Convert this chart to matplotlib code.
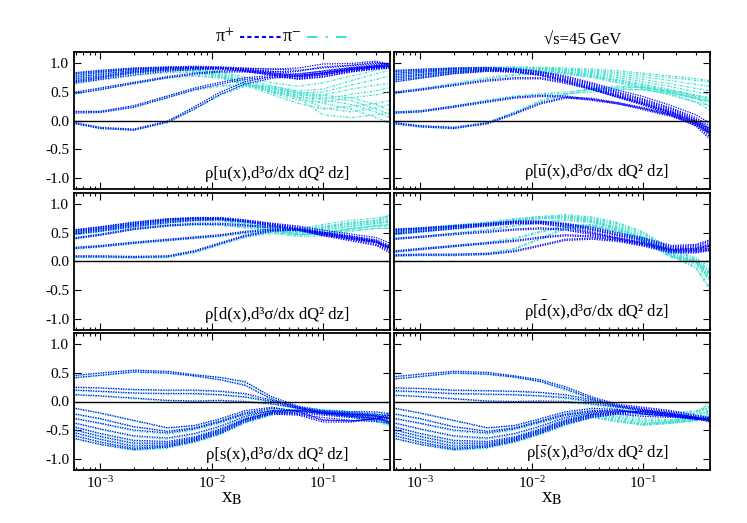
import numpy as np
import matplotlib
matplotlib.use("Agg")
import matplotlib.pyplot as plt
from matplotlib.lines import Line2D

plt.rcParams['font.family'] = ['Liberation Serif', 'DejaVu Serif']
plt.rcParams['mathtext.fontset'] = 'stix'
plt.rcParams['axes.unicode_minus'] = False

# x nodes shared by every curve
xb = [6e-4, 1e-3, 2e-3, 4e-3, 7e-3, 1.2e-2, 2e-2, 3.5e-2, 6e-2, 0.1, 0.18, 0.3, 0.4]

# rho[u(x), sigma]
u_pip = [
    [0.84, 0.88, 0.92, 0.94, 0.95, 0.94, 0.92, 0.90, 0.88, 0.92, 0.96, 1.00, 1.00],
    [0.82, 0.86, 0.91, 0.93, 0.94, 0.93, 0.90, 0.86, 0.82, 0.86, 0.92, 0.96, 0.98],
    [0.79, 0.84, 0.90, 0.92, 0.93, 0.92, 0.89, 0.84, 0.79, 0.83, 0.90, 0.94, 0.96],
    [0.76, 0.81, 0.88, 0.92, 0.93, 0.92, 0.88, 0.82, 0.76, 0.80, 0.88, 0.93, 0.95],
    [0.73, 0.78, 0.86, 0.90, 0.92, 0.91, 0.87, 0.80, 0.73, 0.77, 0.86, 0.92, 0.94],
    [0.70, 0.76, 0.85, 0.90, 0.92, 0.92, 0.91, 0.90, 0.92, 0.99, 1.00, 1.04, 0.98],
    [0.68, 0.74, 0.83, 0.88, 0.91, 0.91, 0.89, 0.86, 0.86, 0.94, 0.97, 1.02, 0.97],
    [0.66, 0.72, 0.80, 0.86, 0.89, 0.90, 0.86, 0.79, 0.72, 0.76, 0.85, 0.90, 0.92],
    [0.50, 0.57, 0.67, 0.77, 0.83, 0.87, 0.87, 0.83, 0.79, 0.83, 0.91, 0.95, 0.96],
    [0.47, 0.54, 0.65, 0.75, 0.81, 0.85, 0.85, 0.81, 0.77, 0.81, 0.89, 0.94, 0.95],
    [0.16, 0.16, 0.26, 0.43, 0.57, 0.67, 0.75, 0.79, 0.77, 0.83, 0.89, 0.93, 0.94],
    [0.13, 0.14, 0.23, 0.40, 0.54, 0.64, 0.72, 0.76, 0.74, 0.80, 0.87, 0.91, 0.92],
    [-0.04, -0.12, -0.15, -0.01, 0.24, 0.50, 0.68, 0.77, 0.81, 0.87, 0.93, 0.98, 0.99],
    [-0.06, -0.14, -0.17, -0.03, 0.20, 0.46, 0.64, 0.74, 0.78, 0.84, 0.91, 0.96, 0.98],
]
u_pim = [
    [0.83, 0.87, 0.91, 0.93, 0.92, 0.86, 0.76, 0.66, 0.60, 0.66, 0.78, 0.88, 0.92],
    [0.80, 0.85, 0.90, 0.92, 0.90, 0.84, 0.72, 0.60, 0.52, 0.55, 0.70, 0.82, 0.88],
    [0.77, 0.82, 0.88, 0.91, 0.89, 0.82, 0.69, 0.56, 0.48, 0.50, 0.62, 0.72, 0.78],
    [0.74, 0.80, 0.87, 0.90, 0.88, 0.80, 0.66, 0.52, 0.44, 0.45, 0.55, 0.62, 0.65],
    [0.71, 0.77, 0.85, 0.89, 0.87, 0.79, 0.65, 0.50, 0.40, 0.38, 0.46, 0.52, 0.58],
    [0.68, 0.75, 0.84, 0.88, 0.86, 0.78, 0.64, 0.48, 0.36, 0.32, 0.40, 0.45, 0.50],
    [0.64, 0.71, 0.78, 0.84, 0.84, 0.76, 0.62, 0.45, 0.30, 0.20, 0.25, 0.30, 0.35],
    [0.49, 0.56, 0.66, 0.75, 0.79, 0.76, 0.66, 0.52, 0.42, 0.22, 0.15, 0.22, 0.28],
    [0.47, 0.54, 0.64, 0.74, 0.78, 0.74, 0.64, 0.50, 0.40, 0.10, 0.05, 0.10, 0.15],
    [0.15, 0.16, 0.25, 0.42, 0.55, 0.62, 0.62, 0.57, 0.48, 0.36, 0.28, 0.15, 0.05],
    [0.14, 0.15, 0.24, 0.40, 0.53, 0.60, 0.60, 0.55, 0.45, 0.30, 0.20, 0.05, -0.05],
    [-0.04, -0.13, -0.16, -0.03, 0.22, 0.46, 0.62, 0.60, 0.50, 0.44, 0.40, 0.28, 0.18],
    [-0.05, -0.14, -0.17, -0.04, 0.20, 0.44, 0.60, 0.58, 0.48, 0.40, 0.35, 0.20, 0.10],
]

# rho[ubar(x), sigma]
ubar_pip = [
    [0.88, 0.90, 0.92, 0.93, 0.91, 0.86, 0.78, 0.66, 0.53, 0.42, 0.26, 0.10, -0.05],
    [0.86, 0.88, 0.91, 0.92, 0.90, 0.85, 0.76, 0.64, 0.50, 0.38, 0.22, 0.05, -0.10],
    [0.83, 0.86, 0.90, 0.91, 0.89, 0.84, 0.74, 0.62, 0.48, 0.36, 0.20, 0.02, -0.14],
    [0.80, 0.84, 0.88, 0.90, 0.88, 0.82, 0.72, 0.60, 0.46, 0.34, 0.18, 0.00, -0.18],
    [0.77, 0.81, 0.86, 0.89, 0.87, 0.81, 0.71, 0.58, 0.44, 0.32, 0.16, -0.02, -0.22],
    [0.74, 0.79, 0.85, 0.88, 0.86, 0.80, 0.70, 0.57, 0.43, 0.30, 0.14, -0.04, -0.25],
    [0.71, 0.76, 0.83, 0.87, 0.85, 0.79, 0.69, 0.55, 0.41, 0.28, 0.12, -0.07, -0.29],
    [0.68, 0.74, 0.82, 0.86, 0.85, 0.79, 0.68, 0.54, 0.40, 0.27, 0.10, -0.10, -0.33],
    [0.50, 0.55, 0.63, 0.71, 0.75, 0.75, 0.67, 0.56, 0.43, 0.31, 0.15, -0.01, -0.14],
    [0.48, 0.53, 0.61, 0.69, 0.73, 0.73, 0.65, 0.54, 0.41, 0.29, 0.13, -0.03, -0.16],
    [0.15, 0.17, 0.25, 0.34, 0.41, 0.44, 0.43, 0.37, 0.31, 0.23, 0.11, -0.04, -0.19],
    [0.13, 0.15, 0.23, 0.32, 0.39, 0.42, 0.41, 0.35, 0.29, 0.21, 0.09, -0.06, -0.21],
    [-0.04, -0.09, -0.12, -0.04, 0.13, 0.31, 0.41, 0.39, 0.31, 0.21, 0.09, -0.07, -0.21],
    [-0.06, -0.11, -0.14, -0.06, 0.11, 0.29, 0.39, 0.37, 0.29, 0.19, 0.07, -0.09, -0.23],
]
ubar_pim = [
    [0.87, 0.89, 0.92, 0.93, 0.94, 0.93, 0.92, 0.90, 0.87, 0.83, 0.78, 0.73, 0.70],
    [0.86, 0.88, 0.92, 0.93, 0.93, 0.92, 0.90, 0.88, 0.84, 0.80, 0.75, 0.70, 0.68],
    [0.83, 0.86, 0.90, 0.92, 0.92, 0.91, 0.89, 0.86, 0.81, 0.76, 0.70, 0.63, 0.60],
    [0.80, 0.84, 0.89, 0.91, 0.92, 0.91, 0.88, 0.84, 0.78, 0.72, 0.64, 0.56, 0.52],
    [0.77, 0.81, 0.87, 0.90, 0.91, 0.90, 0.86, 0.82, 0.75, 0.68, 0.59, 0.50, 0.46],
    [0.74, 0.79, 0.86, 0.89, 0.90, 0.89, 0.85, 0.80, 0.72, 0.64, 0.54, 0.44, 0.40],
    [0.71, 0.76, 0.84, 0.88, 0.89, 0.88, 0.84, 0.78, 0.69, 0.60, 0.49, 0.38, 0.33],
    [0.68, 0.74, 0.82, 0.87, 0.89, 0.88, 0.83, 0.76, 0.66, 0.56, 0.44, 0.32, 0.26],
    [0.50, 0.56, 0.65, 0.75, 0.81, 0.85, 0.83, 0.78, 0.70, 0.62, 0.52, 0.42, 0.36],
    [0.48, 0.54, 0.63, 0.73, 0.79, 0.83, 0.81, 0.75, 0.66, 0.58, 0.48, 0.38, 0.32],
    [0.15, 0.17, 0.26, 0.36, 0.43, 0.47, 0.50, 0.55, 0.58, 0.58, 0.52, 0.44, 0.38],
    [0.13, 0.15, 0.24, 0.34, 0.41, 0.45, 0.47, 0.50, 0.54, 0.54, 0.48, 0.40, 0.34],
    [-0.04, -0.10, -0.12, -0.03, 0.15, 0.35, 0.47, 0.56, 0.60, 0.58, 0.50, 0.40, 0.24],
    [-0.06, -0.12, -0.14, -0.05, 0.13, 0.33, 0.45, 0.54, 0.56, 0.54, 0.46, 0.32, 0.18],
]

# rho[d(x), sigma]
d_pip = [
    [0.56, 0.61, 0.69, 0.75, 0.77, 0.77, 0.73, 0.67, 0.62, 0.55, 0.48, 0.42, 0.32],
    [0.55, 0.60, 0.68, 0.74, 0.76, 0.76, 0.72, 0.66, 0.60, 0.52, 0.45, 0.38, 0.28],
    [0.53, 0.58, 0.66, 0.73, 0.76, 0.76, 0.71, 0.65, 0.58, 0.50, 0.42, 0.35, 0.25],
    [0.52, 0.57, 0.65, 0.72, 0.75, 0.75, 0.71, 0.64, 0.57, 0.48, 0.40, 0.33, 0.22],
    [0.50, 0.55, 0.63, 0.70, 0.73, 0.74, 0.70, 0.63, 0.55, 0.45, 0.36, 0.28, 0.15],
    [0.48, 0.53, 0.61, 0.68, 0.72, 0.73, 0.69, 0.62, 0.56, 0.47, 0.38, 0.30, 0.18],
    [0.42, 0.48, 0.58, 0.64, 0.67, 0.67, 0.64, 0.61, 0.57, 0.51, 0.43, 0.36, 0.26],
    [0.40, 0.46, 0.56, 0.62, 0.65, 0.65, 0.62, 0.59, 0.55, 0.49, 0.41, 0.34, 0.24],
    [0.25, 0.28, 0.34, 0.39, 0.43, 0.47, 0.53, 0.57, 0.56, 0.48, 0.41, 0.35, 0.25],
    [0.23, 0.26, 0.32, 0.37, 0.41, 0.45, 0.51, 0.55, 0.54, 0.46, 0.39, 0.33, 0.23],
    [0.10, 0.10, 0.09, 0.10, 0.19, 0.33, 0.46, 0.55, 0.57, 0.51, 0.44, 0.37, 0.21],
    [0.08, 0.08, 0.07, 0.08, 0.17, 0.31, 0.44, 0.53, 0.55, 0.49, 0.42, 0.35, 0.19],
]
d_pim = [
    [0.55, 0.60, 0.68, 0.74, 0.76, 0.75, 0.69, 0.62, 0.58, 0.65, 0.72, 0.76, 0.80],
    [0.54, 0.59, 0.67, 0.73, 0.75, 0.74, 0.68, 0.60, 0.56, 0.62, 0.68, 0.72, 0.75],
    [0.52, 0.57, 0.65, 0.72, 0.74, 0.73, 0.67, 0.58, 0.54, 0.59, 0.65, 0.69, 0.72],
    [0.51, 0.56, 0.64, 0.71, 0.74, 0.73, 0.66, 0.57, 0.52, 0.56, 0.62, 0.66, 0.70],
    [0.49, 0.54, 0.62, 0.69, 0.72, 0.72, 0.65, 0.55, 0.48, 0.50, 0.58, 0.62, 0.64],
    [0.47, 0.52, 0.60, 0.67, 0.71, 0.71, 0.64, 0.54, 0.47, 0.48, 0.55, 0.58, 0.58],
    [0.41, 0.47, 0.57, 0.63, 0.65, 0.64, 0.60, 0.55, 0.51, 0.60, 0.68, 0.72, 0.82],
    [0.40, 0.46, 0.56, 0.62, 0.64, 0.63, 0.59, 0.54, 0.50, 0.58, 0.66, 0.70, 0.80],
    [0.24, 0.27, 0.33, 0.38, 0.42, 0.46, 0.51, 0.53, 0.49, 0.54, 0.62, 0.67, 0.70],
    [0.22, 0.25, 0.31, 0.36, 0.40, 0.44, 0.49, 0.51, 0.47, 0.50, 0.58, 0.63, 0.66],
    [0.09, 0.09, 0.08, 0.09, 0.17, 0.31, 0.44, 0.51, 0.46, 0.49, 0.57, 0.62, 0.62],
    [0.07, 0.07, 0.06, 0.07, 0.15, 0.29, 0.42, 0.49, 0.44, 0.45, 0.53, 0.58, 0.58],
]

# rho[dbar(x), sigma]
dbar_pip = [
    [0.57, 0.59, 0.63, 0.67, 0.71, 0.71, 0.67, 0.60, 0.50, 0.42, 0.28, 0.30, 0.38],
    [0.56, 0.58, 0.62, 0.66, 0.70, 0.70, 0.66, 0.58, 0.48, 0.40, 0.26, 0.28, 0.36],
    [0.54, 0.57, 0.61, 0.65, 0.69, 0.69, 0.65, 0.56, 0.46, 0.38, 0.24, 0.26, 0.33],
    [0.52, 0.55, 0.60, 0.64, 0.68, 0.68, 0.64, 0.55, 0.45, 0.36, 0.22, 0.24, 0.30],
    [0.50, 0.53, 0.58, 0.63, 0.67, 0.67, 0.62, 0.52, 0.42, 0.34, 0.21, 0.22, 0.27],
    [0.48, 0.52, 0.57, 0.62, 0.66, 0.66, 0.60, 0.50, 0.40, 0.32, 0.20, 0.20, 0.24],
    [0.41, 0.44, 0.49, 0.53, 0.57, 0.59, 0.57, 0.49, 0.41, 0.33, 0.21, 0.23, 0.29],
    [0.39, 0.42, 0.47, 0.51, 0.55, 0.57, 0.55, 0.47, 0.39, 0.31, 0.19, 0.21, 0.27],
    [0.19, 0.23, 0.28, 0.33, 0.37, 0.43, 0.47, 0.45, 0.39, 0.31, 0.19, 0.19, 0.23],
    [0.17, 0.21, 0.26, 0.31, 0.35, 0.41, 0.45, 0.43, 0.37, 0.29, 0.17, 0.17, 0.21],
    [0.12, 0.13, 0.13, 0.14, 0.19, 0.29, 0.39, 0.41, 0.37, 0.29, 0.17, 0.17, 0.21],
    [0.10, 0.11, 0.11, 0.12, 0.17, 0.27, 0.37, 0.39, 0.35, 0.27, 0.15, 0.15, 0.19],
]
dbar_pim = [
    [0.56, 0.59, 0.64, 0.69, 0.75, 0.79, 0.82, 0.78, 0.68, 0.52, 0.22, 0.06, -0.10],
    [0.55, 0.58, 0.63, 0.68, 0.74, 0.78, 0.80, 0.76, 0.66, 0.50, 0.20, 0.04, -0.15],
    [0.53, 0.57, 0.62, 0.67, 0.73, 0.77, 0.79, 0.74, 0.63, 0.47, 0.17, 0.02, -0.20],
    [0.51, 0.55, 0.61, 0.66, 0.72, 0.76, 0.78, 0.72, 0.60, 0.44, 0.14, 0.00, -0.25],
    [0.49, 0.53, 0.60, 0.65, 0.71, 0.76, 0.77, 0.71, 0.58, 0.42, 0.13, -0.02, -0.30],
    [0.47, 0.51, 0.58, 0.64, 0.70, 0.75, 0.76, 0.70, 0.57, 0.40, 0.12, -0.05, -0.35],
    [0.40, 0.44, 0.50, 0.56, 0.63, 0.69, 0.73, 0.69, 0.57, 0.41, 0.11, -0.10, -0.45],
    [0.39, 0.43, 0.49, 0.55, 0.62, 0.68, 0.72, 0.68, 0.56, 0.40, 0.10, -0.12, -0.50],
    [0.18, 0.22, 0.28, 0.34, 0.41, 0.53, 0.63, 0.65, 0.55, 0.39, 0.11, 0.03, -0.18],
    [0.16, 0.20, 0.26, 0.32, 0.39, 0.51, 0.61, 0.63, 0.53, 0.37, 0.09, 0.01, -0.22],
    [0.11, 0.12, 0.12, 0.15, 0.23, 0.41, 0.59, 0.63, 0.53, 0.37, 0.09, 0.01, -0.28],
    [0.09, 0.10, 0.10, 0.13, 0.21, 0.39, 0.57, 0.61, 0.51, 0.35, 0.07, -0.01, -0.32],
]

# rho[s(x), sigma]
s_pip = [
    [0.46, 0.50, 0.55, 0.53, 0.47, 0.42, 0.34, 0.08, -0.08, -0.16, -0.18, -0.18, -0.22],
    [0.42, 0.46, 0.52, 0.50, 0.45, 0.38, 0.28, 0.04, -0.10, -0.18, -0.20, -0.22, -0.26],
    [0.25, 0.24, 0.21, 0.20, 0.20, 0.18, 0.14, 0.02, -0.10, -0.20, -0.22, -0.24, -0.30],
    [0.20, 0.18, 0.15, 0.14, 0.14, 0.12, 0.08, 0.00, -0.12, -0.20, -0.22, -0.25, -0.30],
    [0.12, 0.10, 0.06, 0.02, 0.01, 0.02, 0.00, -0.04, -0.12, -0.20, -0.24, -0.26, -0.30],
    [-0.12, -0.20, -0.33, -0.46, -0.42, -0.30, -0.16, -0.10, -0.18, -0.32, -0.34, -0.30, -0.28],
    [-0.22, -0.30, -0.44, -0.52, -0.46, -0.34, -0.20, -0.12, -0.16, -0.22, -0.26, -0.30, -0.36],
    [-0.30, -0.38, -0.50, -0.55, -0.48, -0.36, -0.22, -0.16, -0.22, -0.28, -0.33, -0.35, -0.38],
    [-0.38, -0.48, -0.60, -0.64, -0.56, -0.43, -0.26, -0.16, -0.16, -0.19, -0.24, -0.28, -0.36],
    [-0.45, -0.56, -0.68, -0.70, -0.62, -0.48, -0.30, -0.18, -0.15, -0.17, -0.22, -0.25, -0.40],
    [-0.50, -0.61, -0.73, -0.73, -0.64, -0.50, -0.31, -0.19, -0.18, -0.21, -0.26, -0.30, -0.34],
    [-0.55, -0.66, -0.78, -0.76, -0.66, -0.52, -0.32, -0.20, -0.20, -0.24, -0.28, -0.33, -0.30],
    [-0.60, -0.71, -0.82, -0.78, -0.68, -0.54, -0.34, -0.21, -0.22, -0.33, -0.34, -0.30, -0.24],
    [-0.65, -0.75, -0.84, -0.80, -0.70, -0.56, -0.36, -0.22, -0.24, -0.36, -0.36, -0.30, -0.20],
]
s_pim = [
    [0.45, 0.49, 0.54, 0.52, 0.46, 0.42, 0.36, 0.06, -0.10, -0.14, -0.18, -0.20, -0.20],
    [0.41, 0.45, 0.51, 0.49, 0.44, 0.38, 0.30, 0.02, -0.12, -0.16, -0.20, -0.22, -0.24],
    [0.24, 0.23, 0.20, 0.19, 0.19, 0.17, 0.12, 0.00, -0.12, -0.16, -0.18, -0.22, -0.26],
    [0.19, 0.17, 0.14, 0.13, 0.13, 0.11, 0.07, -0.02, -0.13, -0.17, -0.20, -0.24, -0.28],
    [0.11, 0.09, 0.05, 0.01, 0.00, 0.01, -0.01, -0.05, -0.12, -0.18, -0.22, -0.26, -0.28],
    [-0.13, -0.21, -0.34, -0.47, -0.43, -0.32, -0.18, -0.12, -0.16, -0.20, -0.25, -0.30, -0.32],
    [-0.23, -0.31, -0.45, -0.53, -0.47, -0.35, -0.21, -0.14, -0.16, -0.21, -0.26, -0.33, -0.38],
    [-0.31, -0.39, -0.52, -0.57, -0.50, -0.38, -0.24, -0.16, -0.17, -0.22, -0.28, -0.36, -0.42],
    [-0.39, -0.49, -0.62, -0.66, -0.58, -0.45, -0.28, -0.17, -0.15, -0.20, -0.26, -0.34, -0.40],
    [-0.46, -0.57, -0.70, -0.72, -0.64, -0.50, -0.32, -0.18, -0.14, -0.18, -0.24, -0.32, -0.40],
    [-0.51, -0.62, -0.75, -0.75, -0.66, -0.52, -0.33, -0.19, -0.15, -0.19, -0.25, -0.31, -0.38],
    [-0.56, -0.67, -0.80, -0.78, -0.68, -0.54, -0.34, -0.20, -0.16, -0.20, -0.26, -0.30, -0.36],
    [-0.61, -0.72, -0.84, -0.80, -0.70, -0.56, -0.36, -0.22, -0.17, -0.16, -0.21, -0.28, -0.40],
    [-0.66, -0.76, -0.86, -0.82, -0.72, -0.58, -0.38, -0.24, -0.18, -0.14, -0.18, -0.26, -0.44],
]

# rho[sbar(x), sigma]
sbar_pip = [
    [0.44, 0.48, 0.53, 0.51, 0.45, 0.38, 0.26, 0.08, -0.05, -0.10, -0.16, -0.24, -0.28],
    [0.40, 0.44, 0.50, 0.48, 0.43, 0.35, 0.22, 0.05, -0.07, -0.12, -0.18, -0.26, -0.30],
    [0.24, 0.23, 0.20, 0.19, 0.18, 0.16, 0.12, 0.03, -0.08, -0.14, -0.20, -0.28, -0.32],
    [0.19, 0.17, 0.14, 0.13, 0.12, 0.10, 0.07, 0.00, -0.09, -0.15, -0.21, -0.28, -0.33],
    [0.11, 0.09, 0.05, 0.01, 0.00, 0.01, 0.00, -0.04, -0.10, -0.16, -0.22, -0.28, -0.34],
    [-0.12, -0.20, -0.33, -0.46, -0.42, -0.30, -0.18, -0.12, -0.14, -0.22, -0.26, -0.30, -0.36],
    [-0.22, -0.30, -0.44, -0.52, -0.46, -0.34, -0.22, -0.16, -0.15, -0.21, -0.25, -0.30, -0.35],
    [-0.30, -0.38, -0.50, -0.55, -0.48, -0.36, -0.24, -0.18, -0.16, -0.20, -0.24, -0.30, -0.34],
    [-0.38, -0.48, -0.60, -0.64, -0.56, -0.43, -0.28, -0.20, -0.17, -0.18, -0.23, -0.29, -0.33],
    [-0.45, -0.56, -0.68, -0.70, -0.62, -0.48, -0.32, -0.22, -0.18, -0.16, -0.22, -0.28, -0.32],
    [-0.50, -0.61, -0.73, -0.73, -0.64, -0.50, -0.34, -0.23, -0.19, -0.17, -0.23, -0.30, -0.31],
    [-0.55, -0.66, -0.78, -0.76, -0.66, -0.52, -0.36, -0.24, -0.20, -0.18, -0.24, -0.32, -0.30],
    [-0.60, -0.71, -0.82, -0.78, -0.68, -0.54, -0.38, -0.26, -0.21, -0.22, -0.26, -0.31, -0.29],
    [-0.65, -0.75, -0.84, -0.80, -0.70, -0.56, -0.40, -0.28, -0.22, -0.26, -0.28, -0.30, -0.28],
]
sbar_pim = [
    [0.43, 0.47, 0.52, 0.50, 0.44, 0.37, 0.24, 0.06, -0.07, -0.14, -0.20, -0.16, -0.08],
    [0.39, 0.43, 0.49, 0.47, 0.42, 0.34, 0.20, 0.03, -0.09, -0.17, -0.22, -0.18, -0.10],
    [0.23, 0.22, 0.19, 0.18, 0.17, 0.15, 0.10, 0.01, -0.10, -0.18, -0.24, -0.20, -0.02],
    [0.18, 0.16, 0.13, 0.12, 0.11, 0.09, 0.05, -0.02, -0.12, -0.21, -0.25, -0.22, -0.10],
    [0.10, 0.08, 0.04, 0.00, -0.01, 0.00, -0.02, -0.06, -0.14, -0.24, -0.26, -0.24, -0.16],
    [-0.13, -0.21, -0.34, -0.47, -0.43, -0.32, -0.20, -0.14, -0.20, -0.30, -0.32, -0.30, -0.22],
    [-0.23, -0.31, -0.45, -0.53, -0.47, -0.35, -0.23, -0.17, -0.23, -0.33, -0.34, -0.31, -0.24],
    [-0.31, -0.39, -0.52, -0.57, -0.50, -0.38, -0.26, -0.20, -0.26, -0.36, -0.36, -0.32, -0.26],
    [-0.39, -0.49, -0.62, -0.66, -0.58, -0.45, -0.30, -0.22, -0.28, -0.38, -0.37, -0.33, -0.28],
    [-0.46, -0.57, -0.70, -0.72, -0.64, -0.50, -0.34, -0.24, -0.30, -0.40, -0.38, -0.34, -0.30],
    [-0.51, -0.62, -0.75, -0.75, -0.66, -0.52, -0.36, -0.25, -0.32, -0.41, -0.38, -0.32, -0.25],
    [-0.56, -0.67, -0.80, -0.78, -0.68, -0.54, -0.38, -0.26, -0.34, -0.42, -0.38, -0.30, -0.20],
    [-0.61, -0.72, -0.84, -0.80, -0.70, -0.56, -0.40, -0.27, -0.35, -0.41, -0.36, -0.28, -0.17],
    [-0.66, -0.76, -0.86, -0.82, -0.72, -0.58, -0.42, -0.28, -0.36, -0.40, -0.34, -0.26, -0.14],
]

labels = [
    'ρ[u(x),d³σ/dx dQ² dz]', r'ρ[$\bar{\mathrm{u}}$(x),d³σ/dx dQ² dz]',
    'ρ[d(x),d³σ/dx dQ² dz]', r'ρ[$\bar{\mathrm{d}}$(x),d³σ/dx dQ² dz]',
    'ρ[s(x),d³σ/dx dQ² dz]', r'ρ[$\bar{\mathrm{s}}$(x),d³σ/dx dQ² dz]',
]
pip_sets = [u_pip, ubar_pip, d_pip, dbar_pip, s_pip, sbar_pip]
pim_sets = [u_pim, ubar_pim, d_pim, dbar_pim, s_pim, sbar_pim]

c_pip = '#0000ff'
c_pim = '#40e0d0'
ls_pip = (0, (1.0, 1.0))
ls_pim = (0, (2.0, 1.2, 0.8, 1.2))

fig = plt.figure(figsize=(7.47, 5.23), dpi=100)
W, H = 747.0, 523.0
cols = [74, 394]
rows = [(52, 189), (193, 330), (333, 470)]

for i in range(6):
    r, c = divmod(i, 2)
    x0 = cols[c]
    top, bot = rows[r]
    ax = fig.add_axes([x0 / W, 1 - bot / H, 316 / W, (bot - top) / H])
    for curve in pim_sets[i]:
        ax.plot(xb, curve, color=c_pim, lw=0.9, ls=ls_pim)
    for curve in pip_sets[i]:
        ax.plot(xb, curve, color=c_pip, lw=0.9, ls=ls_pip)
    ax.axhline(0, color='black', lw=1.0)
    ax.set_xscale('log')
    ax.set_xlim(5.8e-4, 0.4)
    ax.set_ylim(-1.2, 1.2)
    ax.set_yticks([-1.0, -0.5, 0.0, 0.5, 1.0])
    if c == 0:
        ax.set_yticklabels(['-1.0', '-0.5', '0.0', '0.5', '1.0'])
    else:
        ax.set_yticklabels([])
    ax.tick_params(which='both', direction='in', top=True, right=True, labelsize=11)
    ax.tick_params(which='major', length=5, width=0.8)
    ax.tick_params(which='minor', length=2.5, width=0.8)
    ax.xaxis.set_minor_formatter(plt.NullFormatter())
    if r < 2:
        ax.set_xticklabels([])
    else:
        ax.set_xlabel(r'x$_{\mathrm{B}}$', fontsize=15, labelpad=-2)
    for sp in ax.spines.values():
        sp.set_linewidth(1.3)
    ax.text(0.87, 0.05, labels[i], transform=ax.transAxes,
            ha='right', va='bottom', fontsize=12)

# key above the left column, text before sample as in the original
fig.text(234 / W, 1 - 37 / H, 'π$^{+}$', ha='right', va='center', fontsize=13)
fig.add_artist(Line2D([240 / W, 282 / W], [1 - 37 / H] * 2, color=c_pip, lw=1.5,
                      ls=(0, (2, 1.5)), transform=fig.transFigure))
fig.text(301 / W, 1 - 37 / H, 'π$^{-}$', ha='right', va='center', fontsize=13)
fig.add_artist(Line2D([307 / W, 347 / W], [1 - 37 / H] * 2, color=c_pim, lw=1.5,
                      ls=(0, (5, 4, 1, 4)), transform=fig.transFigure))
fig.text(583 / W, 1 - 40 / H, '√s=45 GeV', ha='center', va='center', fontsize=12)

fig.savefig('out.png', dpi=100)
